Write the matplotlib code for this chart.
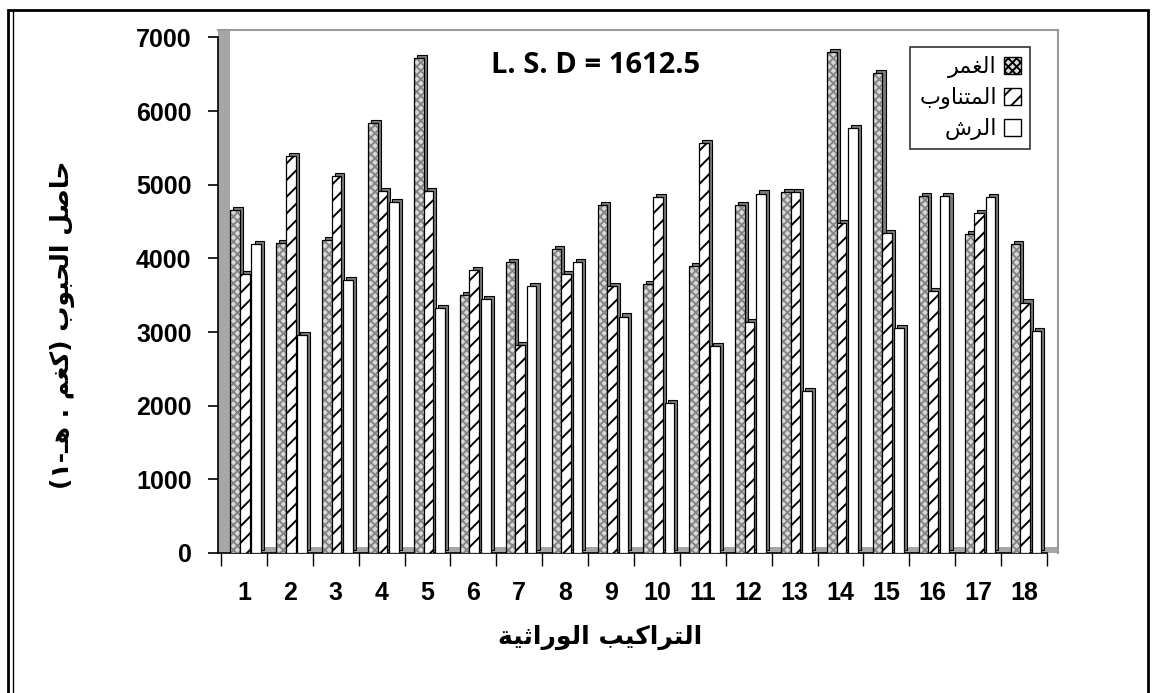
import numpy as np
import matplotlib
matplotlib.use("Agg")
import matplotlib.pyplot as plt
import matplotlib.patheffects as pe
from matplotlib.patches import Patch, Rectangle
from matplotlib.lines import Line2D

# grain yield per genotype, three irrigation methods
genotypes = [str(i) for i in range(1, 19)]
flood = [4650, 4210, 4250, 5840, 6720, 3500, 3950, 4130, 4730,
         3650, 3890, 4730, 4900, 6800, 6510, 4840, 4330, 4200]
alternate = [3790, 5390, 5120, 4920, 4920, 3840, 2820, 3790, 3620,
             4830, 5560, 3130, 4900, 4480, 4340, 3560, 4610, 3400]
sprinkler = [4190, 2960, 3710, 4770, 3330, 3450, 3630, 3950, 3210,
             2040, 2810, 4880, 2200, 5770, 3050, 4850, 4830, 3010]
series_names = ["الغمر", "المتناوب", "الرش"]
yticks = [0, 1000, 2000, 3000, 4000, 5000, 6000, 7000]
lsd_text = "L. S. D = 1612.5"
xlabel = "التراكيب الوراثية"
ylabel = "حاصل الحبوب (كغم . هـ-١)"

# --- minimal arabic shaping (matplotlib has no bidi/joining) ---
FORMS = {
    'ا': ('\uFE8D', '\uFE8E'),
    'ر': ('\uFEAD', '\uFEAE'),
    'و': ('\uFEED', '\uFEEE'),
    'ة': ('\uFE93', '\uFE94'),
    'ل': ('\uFEDD', '\uFEDE', '\uFEDF', '\uFEE0'),
    'ت': ('\uFE95', '\uFE96', '\uFE97', '\uFE98'),
    'ك': ('\uFED9', '\uFEDA', '\uFEDB', '\uFEDC'),
    'ي': ('\uFEF1', '\uFEF2', '\uFEF3', '\uFEF4'),
    'ب': ('\uFE8F', '\uFE90', '\uFE91', '\uFE92'),
    'ث': ('\uFE99', '\uFE9A', '\uFE9B', '\uFE9C'),
    'م': ('\uFEE1', '\uFEE2', '\uFEE3', '\uFEE4'),
    'ن': ('\uFEE5', '\uFEE6', '\uFEE7', '\uFEE8'),
    'غ': ('\uFECD', '\uFECE', '\uFECF', '\uFED0'),
    'ش': ('\uFEB5', '\uFEB6', '\uFEB7', '\uFEB8'),
    'ح': ('\uFEA1', '\uFEA2', '\uFEA3', '\uFEA4'),
    'ص': ('\uFEB9', '\uFEBA', '\uFEBB', '\uFEBC'),
    'ه': ('\uFEE9', '\uFEEA', '\uFEEB', '\uFEEC'),
}
TATWEEL = 'ـ'


def dual(c):
    return c == TATWEEL or (c in FORMS and len(FORMS[c]) == 4)


def is_ar(c):
    return c == TATWEEL or c in FORMS


def shape(text):
    out = []
    for k, c in enumerate(text):
        if c not in FORMS:
            out.append(c)
            continue
        prev = text[k - 1] if k > 0 else ''
        nxt = text[k + 1] if k + 1 < len(text) else ''
        jp = dual(prev)
        jn = dual(c) and is_ar(nxt)
        f = FORMS[c]
        if jp and jn:
            out.append(f[3])
        elif jp:
            out.append(f[1])
        elif jn:
            out.append(f[2])
        else:
            out.append(f[0])
    vis = ''.join(reversed(out))
    return vis.translate(str.maketrans('()', ')('))


plt.rcParams['hatch.linewidth'] = 1.4
AR = ['DejaVu Sans']
NUM = ['Liberation Sans', 'DejaVu Sans']

fig = plt.figure(figsize=(11.53, 6.93), dpi=100)
ax = fig.add_axes([218 / 1153, 1 - 553 / 693, 840 / 1153, 523 / 693])

x = np.arange(1, len(genotypes) + 1)
width = 0.21
offsets = [-0.19, 0.02, 0.27]
faces = ['#d9d9d9', 'white', 'white']
hatch_cols = ['#858585', 'black', 'white']
hatches = ['xxxx', '//', None]
depth = [pe.PathPatchEffect(offset=(2.2, 2.2), facecolor='#7a7a7a',
                            edgecolor='black', linewidth=0.8),
         pe.Normal()]

for k, vals in enumerate([flood, alternate, sprinkler]):
    z = 3 + k
    ax.bar(x + offsets[k], vals, width, facecolor=faces[k],
           edgecolor=hatch_cols[k], hatch=hatches[k], linewidth=0,
           zorder=z, path_effects=depth)
    ax.bar(x + offsets[k], vals, width, fill=False, edgecolor='black',
           linewidth=0.9, zorder=z + 0.1)

# 3d wall / floor look
ax.axvspan(0.435, 0.69, color='#a6a6a6', zorder=1, lw=0)
ax.axhspan(0, 80, color='#a6a6a6', zorder=1, lw=0)

ax.set_xlim(0.435, 18.74)
ax.set_ylim(0, 7100)
for s in ['top', 'right']:
    ax.spines[s].set_color('#9a9a9a')
    ax.spines[s].set_linewidth(1.5)
ax.spines['bottom'].set_bounds(0.435, 18.5)
ax.spines['left'].set_bounds(0, 7000)
ax.spines['left'].set_linewidth(1.2)
ax.spines['bottom'].set_linewidth(1.2)

ax.set_yticks(yticks)
ax.set_yticklabels([str(v) for v in yticks], fontfamily=NUM,
                   fontweight='bold', fontsize=18)
ax.tick_params(axis='y', direction='out', length=7, width=1.2, pad=12)
ax.set_xticks(x)
ax.set_xticklabels(genotypes, fontfamily=NUM, fontweight='bold', fontsize=18)
ax.set_xticks(np.arange(0.5, 19.0, 1.0), minor=True)
ax.tick_params(axis='x', which='major', length=0, pad=20)
ax.tick_params(axis='x', which='minor', direction='out', length=9, width=1)

ax.text(0.449, 0.933, lsd_text, transform=ax.transAxes, ha='center',
        va='center', fontsize=21, fontweight='bold', fontfamily='Open Sans')

handles = [Patch(facecolor=faces[k], edgecolor='black', hatch=hatches[k])
           for k in range(3)]
leg = ax.legend(handles, [shape(n) for n in series_names], loc='upper right',
                bbox_to_anchor=(0.967, 0.967), borderaxespad=0,
                markerfirst=False,
                prop={'family': AR, 'size': 16}, frameon=True, fancybox=False,
                edgecolor='black', handlelength=0.8, handleheight=0.8,
                handletextpad=0.3, labelspacing=0.4, borderpad=0.4)
leg.get_frame().set_linewidth(1.2)
leg.set_zorder(10)

fig.text(600 / 1153, 1 - 637 / 693, shape(xlabel), ha='center', va='center',
         fontsize=18, fontweight='bold', fontfamily=AR)
fig.text(62 / 1153, 1 - 325 / 693, shape(ylabel), ha='center', va='center',
         rotation=90, fontsize=18, fontweight='bold', fontfamily=AR)

# outer frame with double left edge
fig.patches.append(Rectangle((8 / 1153, -0.02), 1140 / 1153, 1.02 - 10 / 693,
                             transform=fig.transFigure, fill=False,
                             edgecolor='black', linewidth=2))
fig.lines.append(Line2D([12.5 / 1153, 12.5 / 1153], [0, 1 - 10 / 693],
                        transform=fig.transFigure, color='black', lw=1))

fig.savefig('out.png', dpi=100)
